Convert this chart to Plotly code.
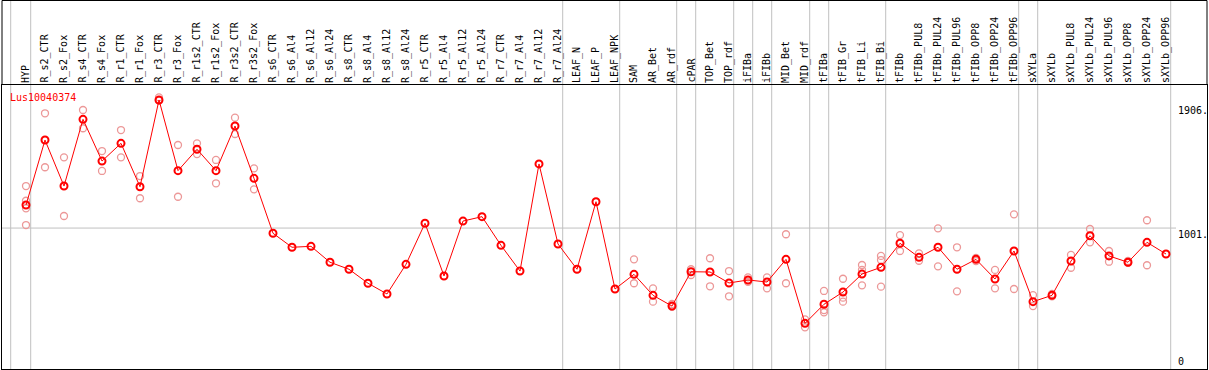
import plotly.graph_objects as go

categories = ["HYP", "R_s2_CTR", "R_s2_Fox", "R_s4_CTR", "R_s4_Fox", "R_r1_CTR", "R_r1_Fox",
              "R_r3_CTR", "R_r3_Fox", "R_r1s2_CTR", "R_r1s2_Fox", "R_r3s2_CTR", "R_r3s2_Fox",
              "R_s6_CTR", "R_s6_Al4", "R_s6_Al12", "R_s6_Al24", "R_s8_CTR", "R_s8_Al4",
              "R_s8_Al12", "R_s8_Al24", "R_r5_CTR", "R_r5_Al4", "R_r5_Al12", "R_r5_Al24",
              "R_r7_CTR", "R_r7_Al4", "R_r7_Al12", "R_r7_Al24", "LEAF_N", "LEAF_P", "LEAF_NPK",
              "SAM", "AR_Bet", "AR_rdf", "cPAR", "TOP_Bet", "TOP_rdf", "iFIBa", "iFIBb",
              "MID_Bet", "MID_rdf", "tFIBa", "tFIB_Gr", "tFIB_Li", "tFIB_Bi", "tFIBb",
              "tFIBb_PUL8", "tFIBb_PUL24", "tFIBb_PUL96", "tFIBb_OPP8", "tFIBb_OPP24",
              "tFIBb_OPP96", "sXYLa", "sXYLb", "sXYLb_PUL8", "sXYLb_PUL24", "sXYLb_PUL96",
              "sXYLb_OPP8", "sXYLb_OPP24", "sXYLb_OPP96"]

mean_values = [1169, 1642, 1307, 1793, 1489, 1618, 1302, 1934, 1419, 1575, 1419, 1744, 1363,
               963, 861, 868, 752, 701, 599, 521, 737, 1036, 652, 1052, 1084, 875, 688, 1468,
               885, 701, 1193, 557, 664, 511, 433, 683, 681, 601, 623, 608, 773, 307, 446,
               535, 666, 715, 890, 788, 861, 701, 773, 630, 834, 465, 511, 761, 945, 798,
               752, 897, 812]

rep_categories = ["HYP", "HYP", "HYP", "HYP", "R_s2_CTR", "R_s2_CTR", "R_s2_Fox", "R_s2_Fox",
                  "R_s4_CTR", "R_s4_CTR", "R_s4_Fox", "R_s4_Fox", "R_r1_CTR", "R_r1_CTR",
                  "R_r1_Fox", "R_r1_Fox", "R_r3_CTR", "R_r3_CTR", "R_r3_Fox", "R_r3_Fox",
                  "R_r1s2_CTR", "R_r1s2_CTR", "R_r1s2_Fox", "R_r1s2_Fox", "R_r3s2_CTR",
                  "R_r3s2_CTR", "R_r3s2_Fox", "R_r3s2_Fox", "SAM", "SAM", "AR_Bet", "AR_Bet",
                  "AR_rdf", "AR_rdf", "cPAR", "cPAR", "TOP_Bet", "TOP_Bet", "TOP_rdf", "TOP_rdf",
                  "iFIBa", "iFIBa", "iFIBb", "iFIBb", "MID_Bet", "MID_Bet", "MID_rdf", "MID_rdf",
                  "tFIBa", "tFIBa", "tFIBa", "tFIB_Gr", "tFIB_Gr", "tFIB_Gr", "tFIB_Li",
                  "tFIB_Li", "tFIB_Li", "tFIB_Bi", "tFIB_Bi", "tFIB_Bi", "tFIBb", "tFIBb",
                  "tFIBb_PUL8", "tFIBb_PUL8", "tFIBb_PUL24", "tFIBb_PUL24", "tFIBb_PUL96",
                  "tFIBb_PUL96", "tFIBb_OPP8", "tFIBb_OPP8", "tFIBb_OPP24", "tFIBb_OPP24",
                  "tFIBb_OPP96", "tFIBb_OPP96", "sXYLa", "sXYLa", "sXYLb", "sXYLb",
                  "sXYLb_PUL8", "sXYLb_PUL8", "sXYLb_PUL24", "sXYLb_PUL24", "sXYLb_PUL96",
                  "sXYLb_PUL96", "sXYLb_OPP8", "sXYLb_OPP8", "sXYLb_OPP24", "sXYLb_OPP24"]

rep_values = [1307, 1200, 1145, 1023, 1837, 1444, 1516, 1089, 1861, 1728, 1562, 1417, 1715, 1516,
              1380, 1218, 1953, 1929, 1606, 1229, 1618, 1540, 1497, 1327, 1805, 1686, 1436, 1283,
              773, 599, 562, 465, 448, 428, 701, 659, 781, 577, 688, 504, 642, 610, 642, 562,
              956, 599, 336, 278, 543, 404, 387, 632, 494, 465, 732, 696, 584, 798, 768, 574,
              950, 834, 817, 763, 999, 722, 861, 540, 783, 761, 696, 562, 1101, 557, 513, 433,
              521, 503, 805, 712, 994, 897, 834, 756, 761, 747, 1058, 730]

divider_after = ["HYP", "R_r7_Al24", "LEAF_NPK", "AR_rdf", "cPAR", "TOP_rdf", "iFIBa", "iFIBb",
                 "MID_rdf", "tFIBa", "tFIB_Bi", "tFIBb_OPP96", "sXYLa", "sXYLb_OPP96"]

gene_name = "Lus10040374"
axis_labels = [1906, 1001, 0]
axis_label_text = ["1906.", "1001.", "0"]

FONT = "DejaVu Sans Mono"
W, H = 1209, 370
TOP, BOT, LEFT, RIGHT = 85, 1, 2, 2

idx = {c: i for i, c in enumerate(categories)}
x_mean = [idx[c] for c in categories]
x_rep = [idx[c] for c in rep_categories]

# pixel mapping helpers (layout only)
def paper_y(p):
    return (H - BOT - p) / (H - TOP - BOT)

x0_px, step_px = 26.0, 19.0
xr = [(LEFT - x0_px) / step_px, (W - RIGHT - x0_px) / step_px]
y_zero_px, px_per_unit = 365.5, 0.1373
yr = [(y_zero_px - (H - BOT)) / px_per_unit, (y_zero_px - TOP) / px_per_unit]

fig = go.Figure()

fig.add_trace(go.Scatter(
    x=x_rep, y=rep_values, mode="markers",
    marker=dict(symbol="circle-open", size=7, color="#ec9898", line=dict(width=1.3, color="#ec9898")),
    hoverinfo="skip", showlegend=False))

fig.add_trace(go.Scatter(
    x=x_mean, y=mean_values, mode="lines+markers",
    line=dict(color="#ff0000", width=1),
    marker=dict(symbol="circle-open", size=7, color="#ff0000", line=dict(width=2, color="#ff0000")),
    showlegend=False))

shapes = []
top_paper = paper_y(0.5)
# dividers
for c in divider_after:
    xv = idx[c] + 4.7 / step_px
    shapes.append(dict(type="line", xref="x", yref="paper", x0=xv, x1=xv, y0=0, y1=top_paper,
                       line=dict(color="#c0c0c0", width=1), layer="below"))
xv = (10.7 - x0_px) / step_px
shapes.append(dict(type="line", xref="x", yref="paper", x0=xv, x1=xv, y0=0, y1=top_paper,
                   line=dict(color="#c0c0c0", width=1), layer="below"))
# grid line at 1001
shapes.append(dict(type="line", xref="paper", yref="y", x0=0, x1=(1176 - LEFT) / (W - LEFT - RIGHT),
                   y0=1001, y1=1001, line=dict(color="#c0c0c0", width=1), layer="below"))
# header frame
shapes.append(dict(type="line", xref="paper", yref="paper", x0=0, x1=1, y0=top_paper, y1=top_paper,
                   line=dict(color="black", width=1)))
shapes.append(dict(type="line", xref="paper", yref="paper", x0=0, x1=0, y0=1, y1=top_paper,
                   line=dict(color="black", width=1)))
shapes.append(dict(type="line", xref="paper", yref="paper", x0=1, x1=1, y0=1, y1=top_paper,
                   line=dict(color="black", width=1)))

annotations = []
for i, c in enumerate(categories):
    annotations.append(dict(x=i, xref="x", y=paper_y(84), yref="paper", text=c, textangle=-90,
                            showarrow=False, xanchor="center", yanchor="bottom",
                            font=dict(family=FONT, size=10, color="black"), borderpad=0))

annotations.append(dict(x=(9 - LEFT) / (W - LEFT - RIGHT), xref="paper", y=paper_y(97), yref="paper",
                        text=gene_name, showarrow=False, xanchor="left", yanchor="middle",
                        font=dict(family=FONT, size=10, color="#ff0000"), borderpad=0))

lab_x = (1177 - LEFT) / (W - LEFT - RIGHT)
for v, t in zip(axis_labels, axis_label_text):
    if v == 0:
        annotations.append(dict(x=lab_x, xref="paper", y=-18, yref="y", text=t, showarrow=False,
                                xanchor="left", yanchor="bottom",
                                font=dict(family=FONT, size=10, color="black"), borderpad=0))
    else:
        annotations.append(dict(x=lab_x, xref="paper", y=v, yref="y", text=t, showarrow=False,
                                xanchor="left", yanchor="top",
                                font=dict(family=FONT, size=10, color="black"), borderpad=0))

fig.update_layout(
    width=W, height=H,
    margin=dict(l=LEFT, r=RIGHT, t=TOP, b=BOT, pad=0),
    paper_bgcolor="white", plot_bgcolor="white",
    shapes=shapes, annotations=annotations,
    xaxis=dict(range=xr, showgrid=False, zeroline=False, showticklabels=False, ticks="",
               showline=True, mirror=True, linecolor="black", linewidth=1),
    yaxis=dict(range=yr, showgrid=False, zeroline=False, showticklabels=False, ticks="",
               showline=True, mirror=True, linecolor="black", linewidth=1),
)

fig.write_html("out.html", config={"displayModeBar": False},
               post_script="document.body.style.margin='0';document.body.style.overflow='hidden';")
